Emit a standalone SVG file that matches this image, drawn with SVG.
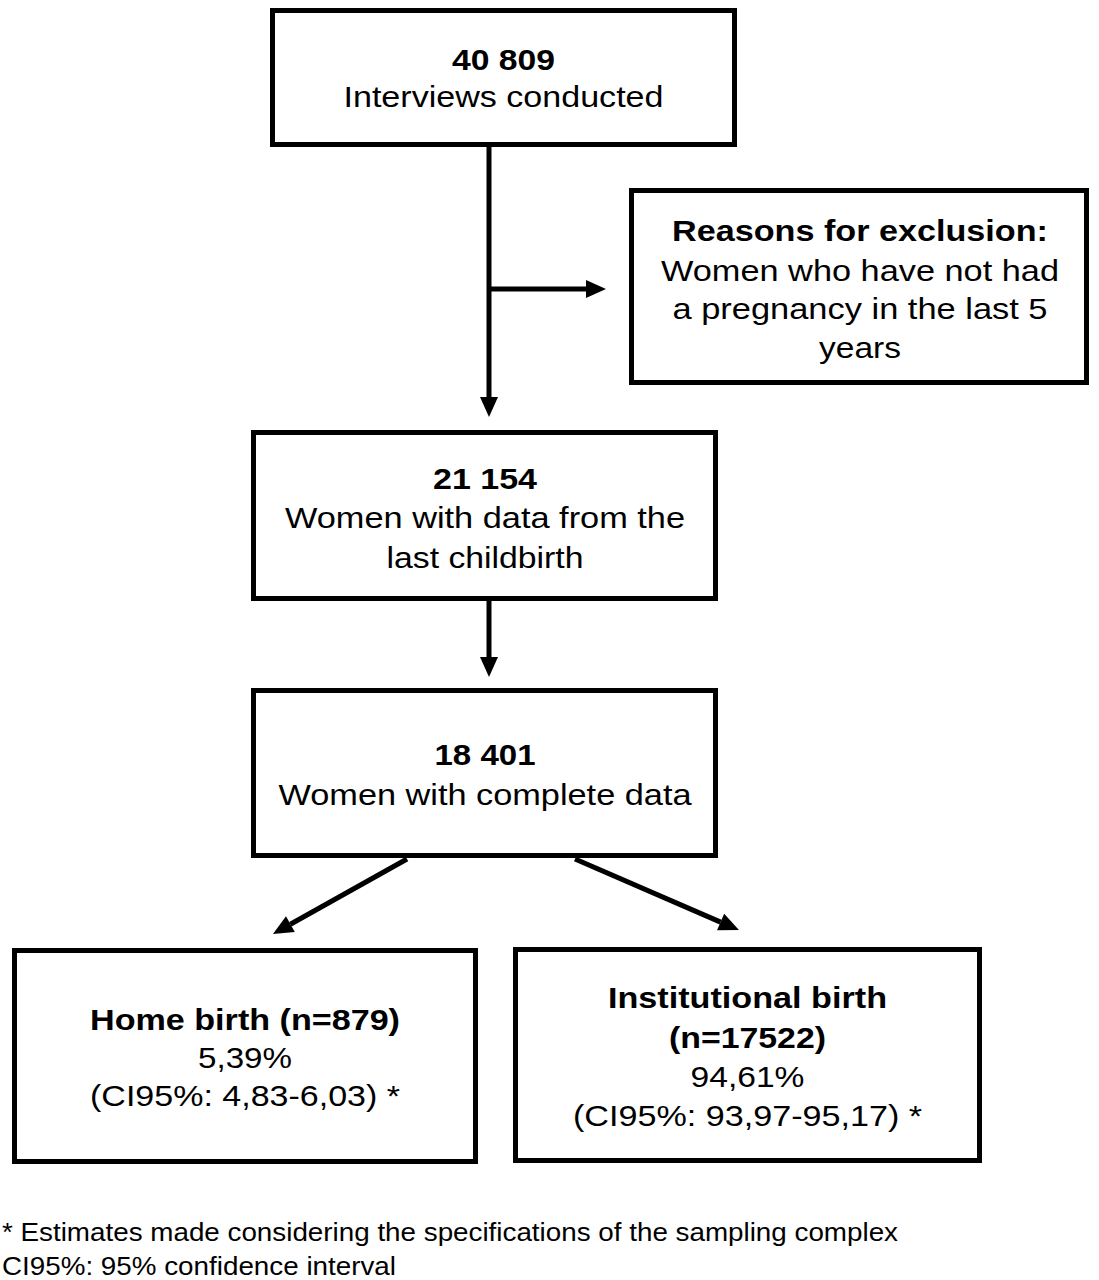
<svg xmlns="http://www.w3.org/2000/svg" width="1099" height="1280" viewBox="0 0 1099 1280">
<style>
.box{fill:#fff;stroke:#000;stroke-width:5}
.t{font-family:"Liberation Sans",Arial,sans-serif;font-size:30px;fill:#000;text-anchor:middle}
.b{font-weight:bold}
.f{font-family:"Liberation Sans",Arial,sans-serif;font-size:25.5px;fill:#000}
.c{stroke:#000;stroke-width:5;fill:none;marker-end:url(#ah)}
</style>
<defs>
<marker id="ah" markerUnits="userSpaceOnUse" markerWidth="22" markerHeight="20" refX="0" refY="9" orient="auto" overflow="visible">
<path d="M0,0 L20,9 L0,18 Z" fill="#000"/>
</marker>
</defs>
<rect width="1099" height="1280" fill="#fff"/>
<g id="connectors">
<line class="c" x1="489" y1="147" x2="489" y2="397"/>
<line class="c" x1="489" y1="289" x2="586" y2="289"/>
<line class="c" x1="489" y1="601" x2="489" y2="657"/>
<line class="c" x1="407" y1="859" x2="290.4" y2="924.2"/>
<line class="c" x1="575" y1="859" x2="720.6" y2="922.1"/>
</g>
<g id="n1">
<rect class="box" x="272.5" y="10.5" width="462" height="134"/>
<text class="t b" x="503.5" y="70" textLength="103" lengthAdjust="spacingAndGlyphs">40 809</text>
<text class="t" x="503.5" y="107" textLength="320" lengthAdjust="spacingAndGlyphs">Interviews conducted</text>
</g>
<g id="n2">
<rect class="box" x="631.5" y="190.5" width="455" height="192"/>
<text class="t b" x="860" y="241" textLength="376" lengthAdjust="spacingAndGlyphs">Reasons for exclusion:</text>
<text class="t" x="860" y="281" textLength="398" lengthAdjust="spacingAndGlyphs">Women who have not had</text>
<text class="t" x="860" y="319" textLength="375" lengthAdjust="spacingAndGlyphs">a pregnancy in the last 5</text>
<text class="t" x="860" y="358" textLength="82" lengthAdjust="spacingAndGlyphs">years</text>
</g>
<g id="n3">
<rect class="box" x="253.5" y="432.5" width="462" height="166"/>
<text class="t b" x="485" y="489" textLength="104" lengthAdjust="spacingAndGlyphs">21 154</text>
<text class="t" x="485" y="528" textLength="400" lengthAdjust="spacingAndGlyphs">Women with data from the</text>
<text class="t" x="485" y="568" textLength="197" lengthAdjust="spacingAndGlyphs">last childbirth</text>
</g>
<g id="n4">
<rect class="box" x="253.5" y="690.5" width="462" height="165"/>
<text class="t b" x="485" y="765" textLength="101" lengthAdjust="spacingAndGlyphs">18 401</text>
<text class="t" x="485" y="805" textLength="413" lengthAdjust="spacingAndGlyphs">Women with complete data</text>
</g>
<g id="n5">
<rect class="box" x="14.5" y="950.5" width="461" height="211"/>
<text class="t b" x="245" y="1030" textLength="310" lengthAdjust="spacingAndGlyphs">Home birth (n=879)</text>
<text class="t" x="245" y="1068" textLength="94" lengthAdjust="spacingAndGlyphs">5,39%</text>
<text class="t" x="245" y="1106" textLength="310" lengthAdjust="spacingAndGlyphs">(CI95%: 4,83-6,03) *</text>
</g>
<g id="n6">
<rect class="box" x="515.5" y="949.5" width="464" height="211"/>
<text class="t b" x="747.5" y="1008" textLength="279" lengthAdjust="spacingAndGlyphs">Institutional birth</text>
<text class="t b" x="747.5" y="1048" textLength="157" lengthAdjust="spacingAndGlyphs">(n=17522)</text>
<text class="t" x="747.5" y="1087" textLength="114" lengthAdjust="spacingAndGlyphs">94,61%</text>
<text class="t" x="747.5" y="1126" textLength="349" lengthAdjust="spacingAndGlyphs">(CI95%: 93,97-95,17) *</text>
</g>
<g id="footer">
<text class="f" x="2" y="1241" textLength="896" lengthAdjust="spacingAndGlyphs">* Estimates made considering the specifications of the sampling complex</text>
<text class="f" x="2" y="1275" textLength="394" lengthAdjust="spacingAndGlyphs">CI95%: 95% confidence interval</text>
</g>
</svg>
